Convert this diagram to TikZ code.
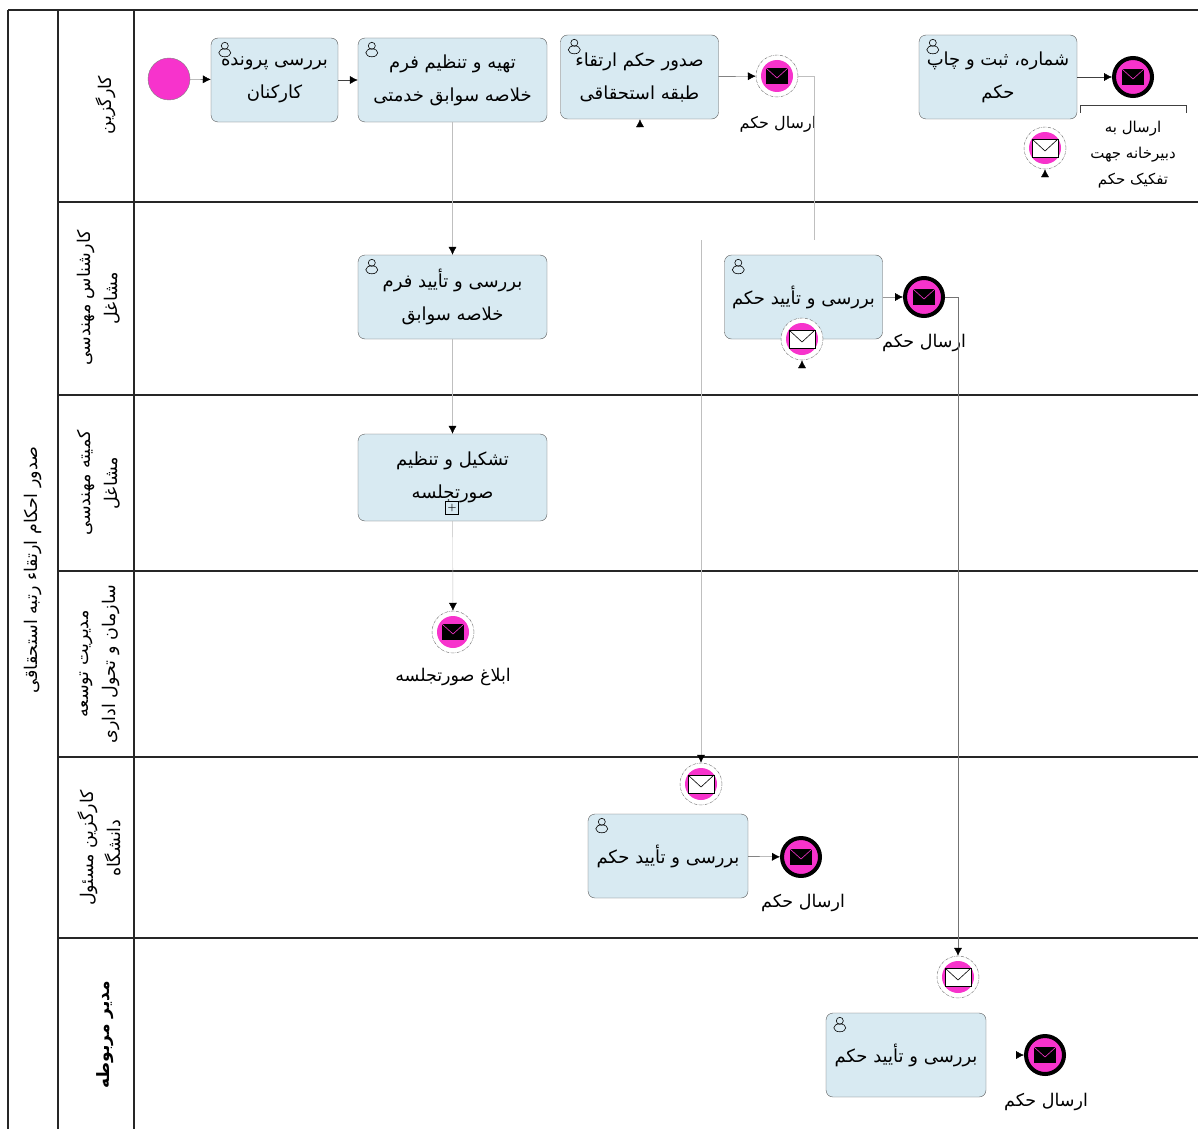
\documentclass[tikz,border=0pt]{standalone}
\usepackage{fontspec}
\newfontfamily\arabicfont[Script=Arabic]{DejaVu Sans}
\TeXXeTstate=1
\usetikzlibrary{shapes.geometric, arrows.meta}
\definecolor{taskblue}{HTML}{D8EAF2}
\definecolor{eventpink}{HTML}{F733CC}
\newcommand{\fa}[1]{{\arabicfont\beginR #1\endR}}
\newcommand{\ta}[1]{\raisebox{-3.5pt}{\fa{#1}}}
\tikzstyle{task} = [rectangle, rounded corners=7pt, minimum height=84pt, align=center, draw=black!65, fill=taskblue, font=\fontsize{18}{33}\selectfont, inner sep=0pt]
\tikzstyle{shorttask} = [task, minimum width=127pt]
\tikzstyle{longtask} = [task, minimum width=158pt]
\tikzstyle{widetask} = [task, minimum width=189pt]
\tikzstyle{startevent} = [circle, minimum size=42pt, inner sep=0pt, draw=black!50, fill=eventpink]
\tikzstyle{midevent} = [circle, minimum size=42pt, inner sep=0pt, draw=black!60, densely dash dot, fill=white, path picture={\fill[eventpink] (path picture bounding box.center) circle (16pt);}]
\tikzstyle{endevent} = [circle, minimum size=38pt, inner sep=0pt, draw=black, line width=4pt, fill=eventpink]
\tikzstyle{eventtext} = [align=center, font=\fontsize{17.5}{26}\selectfont]
\tikzstyle{lanetext} = [rotate=90, align=center, font=\fontsize{17.5}{27}\selectfont]
\tikzstyle{laneline} = [line width=2.4pt, black!85]
\tikzstyle{arrow} = [-{Latex[length=8pt,width=8pt,black]}, black!75]
\tikzstyle{lightline} = [black!25]
\tikzstyle{lightarrow} = [lightline, -{Latex[length=8pt,width=8pt,black]}]
\tikzstyle{plusbox} = [rectangle, draw=black, minimum size=13pt, inner sep=0pt, font=\bfseries]
\newcommand{\usericon}[1]{
	\draw [black, semithick] ([xshift=14pt,yshift=-8pt]#1.north west) circle (3.5pt);
	\draw [black, semithick] ([xshift=14pt,yshift=-15pt]#1.north west) ellipse (6pt and 4pt);
}
\newcommand{\sendmail}[1]{
	\fill [black] ([xshift=-11pt,yshift=-8pt]#1.center) rectangle ([xshift=11pt,yshift=8pt]#1.center);
	\draw [eventpink, semithick] ([xshift=-11pt,yshift=8pt]#1.center) -- ([yshift=-2pt]#1.center) -- ([xshift=11pt,yshift=8pt]#1.center);
}
\newcommand{\catchmail}[1]{
	\draw [black, fill=white, semithick] ([xshift=-13pt,yshift=-9pt]#1.center) rectangle ([xshift=13pt,yshift=9pt]#1.center);
	\draw [black, semithick] ([xshift=-13pt,yshift=9pt]#1.center) -- ([yshift=-3pt]#1.center) -- ([xshift=13pt,yshift=9pt]#1.center);
}

\begin{document}
\begin{tikzpicture}[x=1pt, y=-1pt]
	\useasboundingbox (0,0) rectangle (1198,1129);
	% lanes
	\draw [laneline] (8,10) -- (1198,10);
	\foreach \y in {202,395,571,757,938}
		\draw [laneline] (58,\y) -- (1198,\y);
	\foreach \x in {8,58,134}
		\draw [laneline] (\x,10) -- (\x,1129);
	\node (pooltitle) [lanetext] at (33,570) {\fa{صدور احکام ارتقاء رتبه استحقاقی}};
	\node (lane1) [lanetext] at (106,105) {\fa{کارگزین}};
	\node (lane2) [lanetext] at (99,298) {\fa{کارشناس مهندسی}\\\fa{مشاغل}};
	\node (lane3) [lanetext] at (99,483) {\fa{کمیته مهندسی}\\\fa{مشاغل}};
	\node (lane4) [lanetext] at (100,664) {\fa{مدیریت توسعه}\\\fa{سازمان و تحول اداری}};
	\node (lane5) [lanetext] at (99,848) {\fa{کارگزین مسئول}\\\fa{دانشگاه}};
	\node (lane6) [lanetext, font=\fontsize{17}{27}\selectfont\bfseries] at (105,1035) {\fa{مدیر مربوطه}};

	% tasks
	\node (start) [startevent] at (169,79) {};
	\node (check) [shorttask] at (274.5,80) {\ta{بررسی پرونده}\\\ta{کارکنان}};
	\node (prepare) [widetask] at (452.5,80) {\ta{تهیه و تنظیم فرم}\\\ta{خلاصه سوابق خدمتی}};
	\node (issue) [longtask] at (639.5,77) {\ta{صدور حکم ارتقاء}\\\ta{طبقه استحقاقی}};
	\node (number) [longtask] at (998,77) {\ta{شماره، ثبت و چاپ}\\\ta{حکم}};
	\node (review) [widetask] at (452.5,297) {\ta{بررسی و تأیید فرم}\\\ta{خلاصه سوابق}};
	\node (confirm) [longtask] at (803.5,297) {\ta{بررسی و تأیید حکم}};
	\node (minutes) [widetask, minimum height=87pt] at (452.5,477.5) {\ta{تشکیل و تنظیم}\\\ta{صورتجلسه}};
	\node (plus) [plusbox] at (452,508) {+};
	\node (uniconfirm) [longtask, minimum width=160pt] at (668,856) {\ta{بررسی و تأیید حکم}};
	\node (managerconfirm) [longtask, minimum width=160pt] at (906,1055) {\ta{بررسی و تأیید حکم}};
	\usericon{check}
	\usericon{prepare}
	\usericon{issue}
	\usericon{number}
	\usericon{review}
	\usericon{confirm}
	\usericon{uniconfirm}
	\usericon{managerconfirm}

	% events
	\node (sendorder) [midevent] at (777,76) {};
	\node (sendsecretariat) [endevent] at (1133,77) {};
	\node (catchnumber) [midevent] at (1045,148) {};
	\node (sendconfirm) [endevent] at (924,297) {};
	\node (catchconfirm) [midevent] at (802,339) {};
	\node (sendminutes) [midevent] at (453,632) {};
	\node (catchuni) [midevent] at (701,784) {};
	\node (senduni) [endevent] at (801,857) {};
	\node (catchmanager) [midevent] at (958,977) {};
	\node (sendmanager) [endevent] at (1045,1055) {};
	\sendmail{sendorder}
	\sendmail{sendsecretariat}
	\catchmail{catchnumber}
	\sendmail{sendconfirm}
	\catchmail{catchconfirm}
	\sendmail{sendminutes}
	\catchmail{catchuni}
	\sendmail{senduni}
	\catchmail{catchmanager}
	\sendmail{sendmanager}

	% event texts
	\node (sendordertext) [eventtext, font=\fontsize{16}{26}\selectfont] at (778,124) {\fa{ارسال حکم}};
	\node (note) [eventtext, font=\fontsize{15}{26}\selectfont, minimum width=106pt, minimum height=100pt, inner sep=0pt] at (1133,155) {\fa{ارسال به}\\\fa{دبیرخانه جهت}\\\fa{تفکیک حکم}};
	\node (sendconfirmtext) [eventtext] at (924,343) {\fa{ارسال حکم}};
	\node (sendminutestext) [eventtext] at (453,677) {\fa{ابلاغ صورتجلسه}};
	\node (sendunitext) [eventtext] at (803,903) {\fa{ارسال حکم}};
	\node (sendmanagertext) [eventtext] at (1046,1102) {\fa{ارسال حکم}};
	\draw [black!75] (note.north west) ++(0,8) -- (note.north west) -- (note.north east) -- ++(0,8);

	% connectors
	\coordinate (orderturn) at (814,240);
	\coordinate (unistart) at (701,240);
	\coordinate (issuetip) at (640,127);
	\coordinate (catchnumbertip) at (1045,177);
	\coordinate (catchconfirmtip) at (802,368);
	\coordinate (managertip) at (1016,1055);
	\draw [arrow] (start) -- (check);
	\draw [arrow] (check) -- (prepare);
	\draw [arrow] (issue) -- (sendorder);
	\draw [arrow] (number) -- (sendsecretariat);
	\draw [lightarrow] (prepare) -- (review);
	\draw [lightarrow] (review) -- (minutes);
	\draw [lightarrow] (minutes) -- (sendminutes);
	\draw [lightline] (sendorder) -| (orderturn);
	\draw [lightarrow] (unistart) -- (catchuni);
	\draw [arrow, black!40] (confirm) -- (sendconfirm);
	\draw [-{Latex[length=8pt,width=8pt,black]}, black!55] (sendconfirm) -| (catchmanager);
	\draw [arrow] (uniconfirm) -- (senduni);
	\draw [arrow] (issuetip) -- (issue);
	\draw [arrow] (catchnumbertip) -- (catchnumber);
	\draw [arrow] (catchconfirmtip) -- (catchconfirm);
	\draw [arrow] (managertip) -- (sendmanager);
\end{tikzpicture}
\end{document}
